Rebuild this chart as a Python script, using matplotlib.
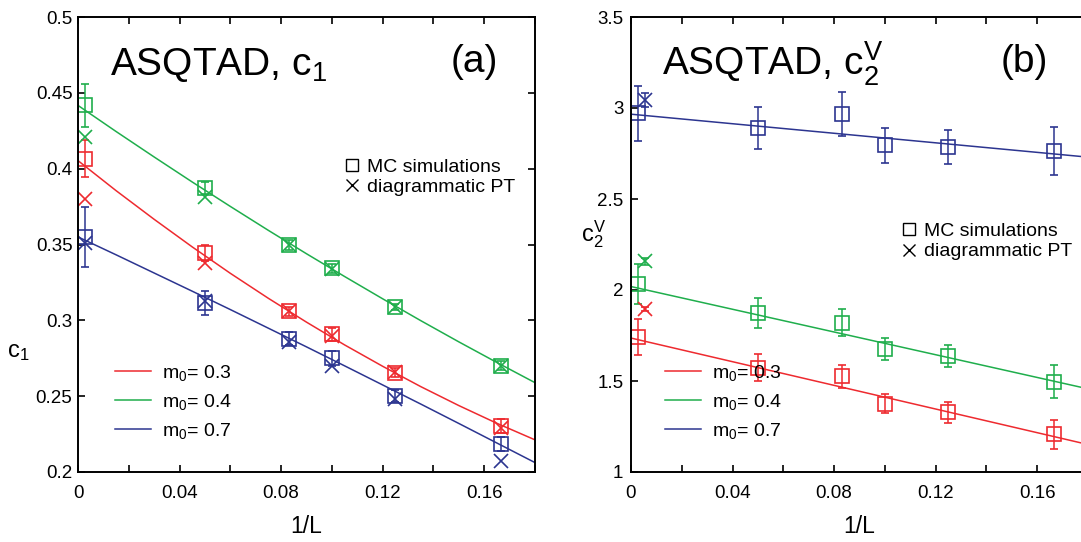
import matplotlib
matplotlib.use('Agg')
import matplotlib.pyplot as plt
from matplotlib.lines import Line2D
from matplotlib.ticker import MultipleLocator

plt.rcParams['font.family'] = ['Liberation Sans', 'DejaVu Sans']
plt.rcParams['mathtext.fontset'] = 'custom'
plt.rcParams['mathtext.rm'] = 'Liberation Sans'
plt.rcParams['mathtext.it'] = 'Liberation Sans'

RED = '#ee2a2f'
GREEN = '#1fae4c'
BLUE = '#2c3590'

# --- panel (a): c1 ---
x_a = [0.0028, 0.05, 0.0833, 0.1, 0.125, 0.1667]
mc_a_03 = [0.4066, 0.3444, 0.306, 0.2907, 0.2656, 0.2305]
mc_a_04 = [0.4417, 0.3874, 0.3497, 0.3344, 0.3086, 0.2702]
mc_a_07 = [0.355, 0.3115, 0.288, 0.2751, 0.2503, 0.2186]
err_a_03 = [0.012, 0.005, 0.003, 0.004, 0.003, 0.0045]
err_a_04 = [0.014, 0.004, 0.003, 0.003, 0.002, 0.003]
err_a_07 = [0.02, 0.008, 0.004, 0.005, 0.004, 0.0045]
pt_a_03 = [0.380, 0.338, 0.306, 0.290, 0.266, 0.229]
pt_a_04 = [0.421, 0.381, 0.350, 0.334, 0.309, 0.270]
pt_a_07 = [0.351, 0.313, 0.286, 0.270, 0.248, 0.207]
fit_x_a = [0, 0.015, 0.03, 0.045, 0.06, 0.075, 0.09, 0.105, 0.12, 0.135, 0.15, 0.165, 0.18]
fit_a_03 = [0.4053, 0.3855, 0.3666, 0.3484, 0.3310, 0.3145, 0.2988, 0.2838, 0.2697,
            0.2563, 0.2438, 0.2321, 0.2212]
fit_a_04 = [0.4417, 0.4245, 0.4077, 0.3912, 0.3751, 0.3593, 0.3439, 0.3289, 0.3142,
            0.2998, 0.2858, 0.2722, 0.2589]
fit_a_07 = [0.355, 0.3432, 0.3312, 0.3192, 0.3071, 0.2948, 0.2825, 0.2700, 0.2574,
            0.2448, 0.2320, 0.2191, 0.2062]

# --- panel (b): c2^V ---
x_b = [0.0028, 0.05, 0.0833, 0.1, 0.125, 0.1667]
mc_b_03 = [1.743, 1.574, 1.525, 1.376, 1.327, 1.207]
mc_b_04 = [2.035, 1.872, 1.82, 1.677, 1.637, 1.497]
mc_b_07 = [2.971, 2.889, 2.966, 2.795, 2.786, 2.764]
err_b_03 = [0.1, 0.074, 0.064, 0.054, 0.057, 0.079]
err_b_04 = [0.11, 0.083, 0.075, 0.06, 0.062, 0.09]
err_b_07 = [0.15, 0.115, 0.12, 0.095, 0.095, 0.13]
pt_x_b = [0.0055]
pt_b_03 = [1.896]
pt_b_04 = [2.157]
pt_b_07 = [3.043]
pt_err_b_03 = [0.01]
pt_err_b_04 = [0.02]
pt_err_b_07 = [0.04]
fit_x_b = [0, 0.18]
fit_b_03 = [1.736, 1.151]
fit_b_04 = [2.019, 1.457]
fit_b_07 = [2.966, 2.730]

labels_m0 = ['m$_0$= 0.3', 'm$_0$= 0.4', 'm$_0$= 0.7']

W, H = 1081, 542
fig = plt.figure(figsize=(W / 100, H / 100), dpi=100)


def px_axes(x0, x1, ytop, ybot):
    return fig.add_axes([x0 / W, (H - ybot) / H, (x1 - x0) / W, (ybot - ytop) / H])


ax1 = px_axes(78, 535, 17, 472)
ax2 = px_axes(631, 1088, 17, 472)

colors = [RED, GREEN, BLUE]
sq = dict(marker='s', ms=9.5, mfc='none', mew=1.2, ls='none', capsize=2.8,
          elinewidth=1.1, capthick=1.1)

# panel a
for c, mc, er, pt, fit in zip(colors, [mc_a_03, mc_a_04, mc_a_07],
                             [err_a_03, err_a_04, err_a_07],
                             [pt_a_03, pt_a_04, pt_a_07],
                             [fit_a_03, fit_a_04, fit_a_07]):
    ax1.plot(fit_x_a, fit, color=c, lw=1.1)
    ax1.errorbar(x_a, mc, yerr=er, color=c, mec=c, **sq)
    ax1.plot(x_a, pt, 'x', color=c, ms=9.5, mew=1.2)

# panel b
for c, mc, er, pt, pe, fit in zip(colors, [mc_b_03, mc_b_04, mc_b_07],
                                 [err_b_03, err_b_04, err_b_07],
                                 [pt_b_03, pt_b_04, pt_b_07],
                                 [pt_err_b_03, pt_err_b_04, pt_err_b_07],
                                 [fit_b_03, fit_b_04, fit_b_07]):
    ax2.plot(fit_x_b, fit, color=c, lw=1.1)
    ax2.errorbar(x_b, mc, yerr=er, color=c, mec=c, **sq)
    ax2.errorbar(pt_x_b, pt, yerr=pe, fmt='x', color=c, ms=9.5, mew=1.2,
                 capsize=2.8, elinewidth=1.1, capthick=1.1)

ax1.set_xlim(0, 0.18)
ax1.set_ylim(0.2, 0.5)
ax1.yaxis.set_major_locator(MultipleLocator(0.05))
ax2.set_xlim(0, 0.18)
ax2.set_ylim(1, 3.5)
ax2.yaxis.set_major_locator(MultipleLocator(0.5))

for ax in (ax1, ax2):
    ax.xaxis.set_major_locator(MultipleLocator(0.04))
    ax.xaxis.set_minor_locator(MultipleLocator(0.02))
    ax.xaxis.set_major_formatter(matplotlib.ticker.FuncFormatter(
        lambda v, p: '0' if abs(v) < 1e-9 else '%.2f' % v))
    ax.tick_params(which='both', direction='in', top=True, right=True,
                   length=5, width=1.2, labelsize=13.5)
    ax.tick_params(axis='x', pad=9)
    for s in ax.spines.values():
        s.set_linewidth(1.4)
    ax.set_xlabel('1/L', fontsize=16.5, labelpad=10)

ax1.tick_params(axis='y', pad=4)
ax1.yaxis.set_major_formatter(matplotlib.ticker.FuncFormatter(
    lambda v, p: ('%.2f' % v).rstrip('0').rstrip('.') if v else '0'))
ax2.tick_params(axis='y', pad=5.5)
ax2.yaxis.set_major_formatter(matplotlib.ticker.FuncFormatter(
    lambda v, p: ('%.1f' % v).rstrip('0').rstrip('.')))

# titles
ax1.text(0.070, 0.872, 'ASQTAD, c$_1$', transform=ax1.transAxes, fontsize=28,
         va='baseline', ha='left')
ax1.text(0.8665, 0.901, '(a)', transform=ax1.transAxes, fontsize=28,
         va='center', ha='center')
ax2.text(0.068, 0.872, 'ASQTAD, c$_2^V$', transform=ax2.transAxes, fontsize=28,
         va='baseline', ha='left')
ax2.text(0.86, 0.901, '(b)', transform=ax2.transAxes, fontsize=28,
         va='center', ha='center')

# y labels
fig.text(7 / W, (H - 352) / H, 'c$_1$', fontsize=17, va='center', ha='left')
fig.text(581 / W, (H - 234) / H, 'c$_2^V$', fontsize=17, va='center', ha='left')

# legends
line_handles = [Line2D([], [], color=c, lw=1.1) for c in colors]
mark_handles = [Line2D([], [], marker='s', ms=8, mfc='none', mec='k', mew=1, ls='none'),
                Line2D([], [], marker='x', ms=8, color='k', mew=1, ls='none')]
mark_labels = ['MC simulations', 'diagrammatic PT']

for ax, lx, mx, my in ((ax1, 0.081, 0.582, 0.690), (ax2, 0.0744, 0.591, 0.549)):
    lg = ax.legend(line_handles, labels_m0, loc='upper left',
                   bbox_to_anchor=(lx, 0.2405), frameon=False, borderpad=0,
                   borderaxespad=0, handlelength=1.85, handletextpad=0.55,
                   labelspacing=0.47, fontsize=14)
    ax.add_artist(lg)
    ax.legend(mark_handles, mark_labels, loc='upper left', bbox_to_anchor=(mx, my),
              frameon=False, borderpad=0, borderaxespad=0, handlelength=0.8,
              handletextpad=0.4, labelspacing=0.15, fontsize=14)

fig.savefig('out.png', dpi=100)
